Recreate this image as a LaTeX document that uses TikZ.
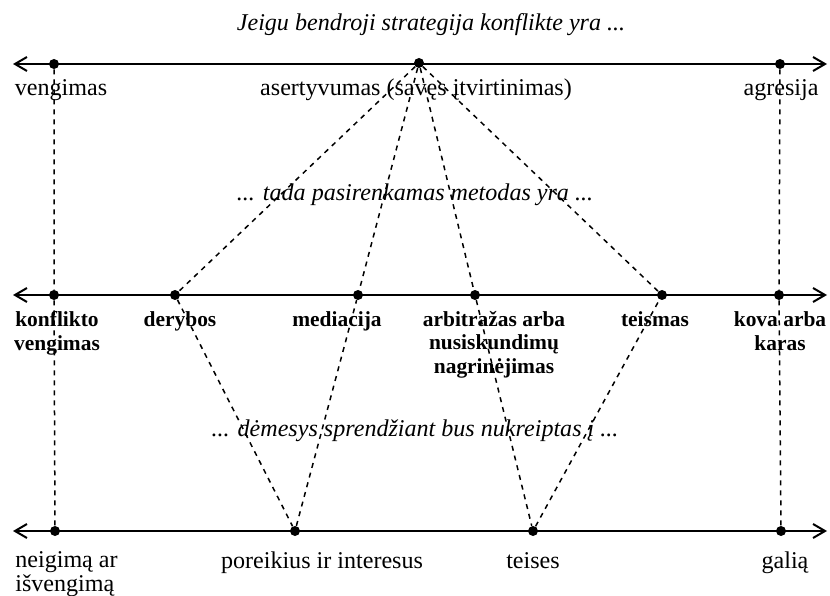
\documentclass[tikz,border=0pt]{standalone}
\usepackage{fontspec}
\setmainfont{Liberation Serif}
\usetikzlibrary{arrows.meta}
\tikzset{>={Straight Barb[length=2.4mm,width=2.8mm]},
 every node/.style={font=\fontsize{13.7}{13.1}\selectfont,inner sep=0pt,align=center,anchor=base},
 dot/.style={circle,fill=black,minimum size=2mm,anchor=center},
 axis/.style={line width=0.4mm,<->},
 link/.style={line width=0.3mm,dash pattern=on 1mm off 1mm},
 bold/.style={font=\fontsize{12.2}{13.1}\selectfont\bfseries},
 ital/.style={font=\fontsize{13.7}{13.1}\selectfont\itshape}}

\begin{document}
\begin{tikzpicture}[x=0.2mm,y=-0.2mm]
\useasboundingbox (0,0) rectangle (830,596);
\coordinate (tl) at (13,64);
\coordinate (tr) at (827,64);
\coordinate (ml) at (13,295);
\coordinate (mr) at (827,295);
\coordinate (bl) at (13,531);
\coordinate (br) at (827,531);
\draw[axis] (tl)--(tr);
\draw[axis] (ml)--(mr);
\draw[axis] (bl)--(br);
\node[dot] (v1) at (54,64) {};
\node[dot] (a1) at (419,63) {};
\node[dot] (g1) at (780,64) {};
\node[dot] (m1) at (54,295) {};
\node[dot] (m2) at (175,295) {};
\node[dot] (m3) at (358,295) {};
\node[dot] (m4) at (475,295) {};
\node[dot] (m5) at (662,295) {};
\node[dot] (m6) at (779,295) {};
\node[dot] (b1) at (55,531) {};
\node[dot] (b2) at (295,531) {};
\node[dot] (b3) at (533,531) {};
\node[dot] (b4) at (781,531) {};
\draw[link] (v1)--(m1)--(b1);
\draw[link] (g1)--(m6)--(b4);
\foreach \m in {m2,m3,m4,m5} \draw[link] (a1)--(\m);
\draw[link] (m2)--(b2)--(m3);
\draw[link] (m4)--(b3)--(m5);
\node[ital] (title) at (431,31) {Jeigu bendroji strategija konflikte yra ...};
\node (vengimas) at (61,96) {vengimas};
\node (asert) at (416,96) {asertyvumas (savęs įtvirtinimas)};
\node (agresija) at (781,96) {agresija};
\node[ital] (tada) at (415,201) {... tada pasirenkamas metodas yra ...};
\node[bold] (konflikto) at (57,350) {konflikto\\vengimas};
\node[bold] (derybos) at (180,327) {derybos};
\node[bold] (mediacija) at (337,327) {mediacija};
\node[bold] (arbitrazas) at (494,373) {arbitražas arba\\nusiskundimų\\nagrinėjimas};
\node[bold] (teismas) at (655,327) {teismas};
\node[bold] (kova) at (780,350) {kova arba\\karas};
\node[ital] (demesys) at (415,436) {... dėmesys sprendžiant bus nukreiptas į ...};
\node[align=left,anchor=base west] (neigima) at (15,591) {neigimą ar\\išvengimą};
\node (poreikius) at (322,568) {poreikius ir interesus};
\node (teises) at (533,568) {teises};
\node (galia) at (785,568) {galią};
\end{tikzpicture}
\end{document}
